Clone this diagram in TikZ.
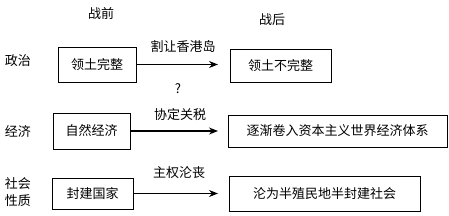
\documentclass[tikz,border=0pt]{standalone}
\usepackage{fontspec}
\setmainfont{Noto Sans CJK SC}
\usetikzlibrary{arrows.meta,positioning}

\begin{document}
\begin{tikzpicture}[
    x=1pt, y=-1pt,
    statebox/.style={draw, line width=0.9pt, inner sep=0pt,
                     font=\fontsize{13}{15}\selectfont},
    rowlabel/.style={font=\fontsize{13}{17}\selectfont, align=center},
    headlabel/.style={font=\fontsize{13}{15}\selectfont},
    causelabel/.style={font=\fontsize{13}{15}\selectfont},
    change/.style={-{Stealth[length=9pt, width=7pt]}, line width=1.1pt}
]
\useasboundingbox (0,0) rectangle (449,215);

% column heads
\node[headlabel] (headBefore) at (101,14) {战前};
\node[headlabel] (headAfter) at (272,20) {战后};

% row labels
\node[rowlabel] (rowPol) at (18,61) {政治};
\node[rowlabel] (rowEco) at (18,131) {经济};
\node[rowlabel] (rowSoc) at (18,192.5) {社会\\性质};

% before the war
\node[statebox, minimum width=78pt, minimum height=35pt] (before1) at (97,64.5) {领土完整};
\node[statebox, minimum width=77pt, minimum height=36pt] (before2) at (91.5,131) {自然经济};
\node[statebox, minimum width=81pt, minimum height=31pt] (before3) at (92.5,193.5) {封建国家};

% after the war
\node[statebox, minimum width=101pt, minimum height=33pt] (after1) at (280.5,65.5) {领土不完整};
\node[statebox, minimum width=219pt, minimum height=32pt] (after2) at (337.5,131) {逐渐卷入资本主义世界经济体系};
\node[statebox, minimum width=191pt, minimum height=35pt] (after3) at (324.5,193.5) {沦为半殖民地半封建社会};

% arrows and causes
\coordinate (tip1) at (218,64.5);
\coordinate (tip2) at (218,131);
\coordinate (tip3) at (218,193.5);
\draw[change] (before1.east) -- (tip1);
\draw[change] (before2.east) -- (tip2);
\draw[change] (before3.east) -- (tip3);

\node[causelabel] (cause1) at (183,47) {割让香港岛};
\node[causelabel] (query) at (178,89) {?};
\node[causelabel] (cause2) at (180,115) {协定关税};
\node[causelabel] (cause3) at (179,173) {主权沦丧};
\end{tikzpicture}
\end{document}
